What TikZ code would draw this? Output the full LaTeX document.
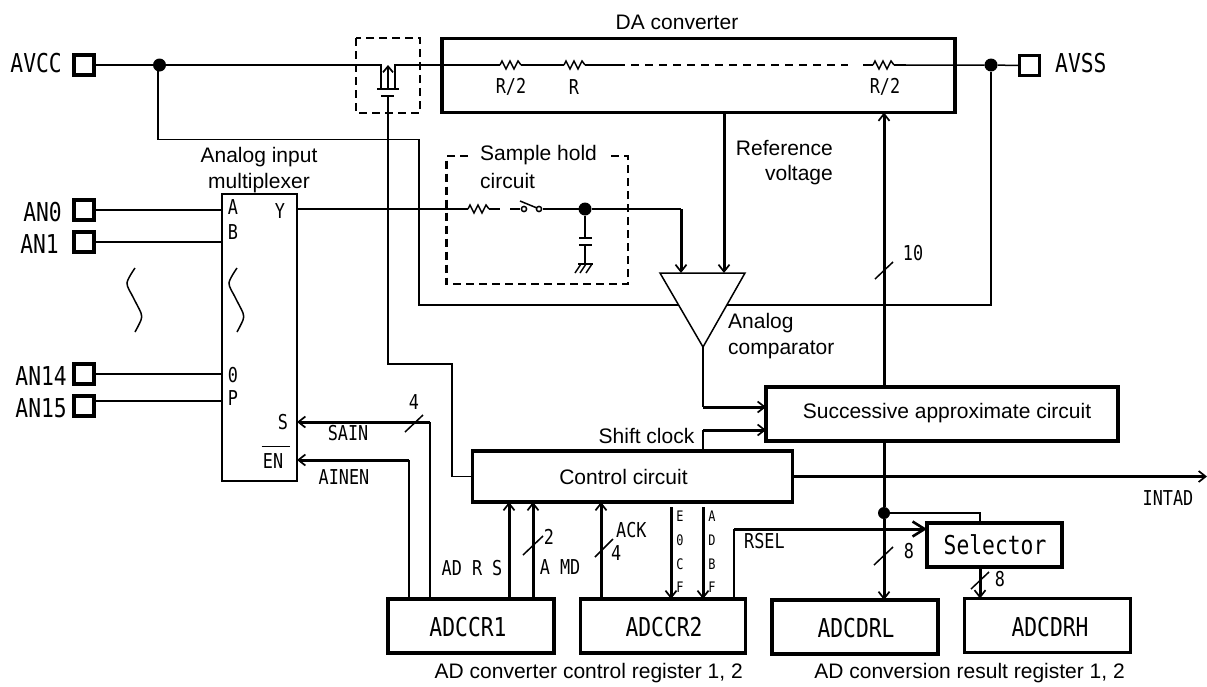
\documentclass[tikz,border=0pt]{standalone}
\usepackage{fontspec}
\setmainfont{Liberation Sans}
\newfontfamily\gothic[FakeStretch=0.82]{DejaVu Sans Mono}
\usetikzlibrary{arrows.meta}
\newcommand{\zigzag}[2]{\draw[wire] (#1,#2) -- ++(2,-4) -- ++(4,8) -- ++(4,-8) -- ++(4,8) -- ++(4,-8) -- ++(3,4);}
\tikzset{
  wire/.style={line width=1.5pt},
  bus/.style={line width=3pt},
  tip/.style={-{Straight Barb[length=7pt,width=11pt,line width=1.7pt]}},
  bigtip/.style={-{Straight Barb[length=12pt,width=15pt,line width=2.6pt]}},
  heavybox/.style={draw,line width=3.8pt,inner sep=0pt,outer sep=0pt,fill=white},
  muxbox/.style={draw,line width=2pt,inner sep=0pt,outer sep=0pt},
  dashbox/.style={line width=2.8pt,dash pattern=on 8pt off 5pt},
  pin/.style={draw,line width=3.4pt,minimum size=20pt,inner sep=0pt,outer sep=0pt},
  big/.style={font=\gothic\fontsize{26}{28}\selectfont,inner sep=0pt},
  small/.style={font=\gothic\fontsize{20.5}{24}\selectfont,inner sep=0pt},
  tiny/.style={font=\gothic\fontsize{14.5}{16}\selectfont,inner sep=0pt},
  lab/.style={font=\fontsize{21}{25.5}\selectfont,inner sep=0pt},
  dot/.style={circle,fill,minimum size=#1,inner sep=0pt,outer sep=0pt},
}
\begin{document}
\begin{tikzpicture}[x=1pt,y=-1pt]
\useasboundingbox[fill=white] (0,0) rectangle (1207,686);
% pins
\node[pin] (avcc) at (84,65) {};
\node[pin] (avss) at (1029.5,65.5) {};
\node[pin] (an0) at (84,210) {};
\node[pin] (an1) at (84,242) {};
\node[pin] (an14) at (84,374) {};
\node[pin] (an15) at (84,406) {};
\node[big,anchor=east] (tavcc) at (62,63) {AVCC};
\node[big,anchor=west] (tavss) at (1055,63) {AVSS};
\node[big,anchor=east] (tan0) at (62,212) {AN0};
\node[big,anchor=east] (tan1) at (59,244) {AN1};
\node[big,anchor=east] (tan14) at (67,376) {AN14};
\node[big,anchor=east] (tan15) at (67,408) {AN15};
% main blocks
\node[muxbox,minimum width=75pt,minimum height=287pt] (mux) at (259.5,337.5) {};
\node[heavybox,minimum width=513pt,minimum height=74pt] (da) at (698.5,75.5) {};
\node[heavybox,minimum width=352pt,minimum height=54pt] (sar) at (942,414) {};
\node[lab] (tsar) at (947,413) {Successive approximate circuit};
\node[heavybox,minimum width=320pt,minimum height=51pt] (ctrl) at (632.5,476.5) {};
\node[lab] (tctrl) at (623.5,477) {Control circuit};
\node[heavybox,minimum width=135pt,minimum height=44pt] (sel) at (994.5,545) {};
\node[big] (tsel) at (995,545) {Selector};
\node[heavybox,minimum width=166pt,minimum height=54pt] (cr1) at (471,626) {};
\node[big] (tcr1) at (468,627) {ADCCR1};
\node[heavybox,minimum width=165pt,minimum height=54pt] (cr2) at (663,626) {};
\node[big] (tcr2) at (664,627) {ADCCR2};
\node[heavybox,minimum width=166pt,minimum height=54pt] (drl) at (855,627) {};
\node[big] (tdrl) at (856,628) {ADCDRL};
\node[heavybox,minimum width=166pt,minimum height=54pt] (drh) at (1047.5,625.5) {};
\node[big] (tdrh) at (1050,627) {ADCDRH};
% named junctions
\node[dot=13pt] (j1) at (159.5,65) {};
\node[dot=13pt] (j2) at (991,65) {};
\node[dot=13pt] (j3) at (585,209) {};
\node[dot=12pt] (j4) at (884,513) {};
\coordinate (cmpL) at (660,273);
\coordinate (cmpR) at (745,273);
\coordinate (cmpA) at (703,347);
% wires through the comparator (covered by the triangle)
\draw[wire] (158,65) -- (158,139.5) -- (419,139.5) -- (419,305) -- (991,305) -- (j2);
\draw[wire] (avcc.east) -- (j1) -- (381,65) -- (381,89);
\draw[wire] (395,89) -- (395,65) -- (488,65);
\draw[wire] (532,65) -- (553,65);
\draw[wire] (597,65) -- (617,65);
\draw[line width=2.4pt,dash pattern=on 8pt off 6pt] (617,65) -- (848,65);
\draw[wire] (906,65) -- (j2) -- (avss.west);
\zigzag{500}{65}
\draw[wire] (488,65) -- (500,65) (521,65) -- (532,65);
\zigzag{564}{65}
\draw[wire] (553,65) -- (564,65) (585,65) -- (597,65);
\zigzag{873}{65}
\draw[wire] (863,65) -- (873,65) (894,65) -- (906,65);
\node[small] (tr1) at (511,87) {R/2};
\node[small] (tr2) at (574,87) {R};
\node[small] (tr3) at (885,87) {R/2};
\node[lab] (tda) at (677,22) {DA converter};
% transistor
\draw[dashbox] (356,38) rectangle (420,113);
\draw[line width=2.2pt] (377,89) -- (399,89);
\draw[line width=2.2pt] (381,96) -- (394,96);
\draw[line width=2.4pt,-{Straight Barb[length=6pt,width=10pt,line width=1.7pt]}] (388,89) -- (388,65);
\draw[wire] (388,96) -- (388,364) -- (452,364) -- (452,476.5) -- (ctrl.west);
% inputs
\draw[wire] (an0.east) -- (mux.west |- an0.east);
\draw[wire] (an1.east) -- (mux.west |- an1.east);
\draw[wire] (an14.east) -- (mux.west |- an14.east);
\draw[wire] (95,401) -- (222,401);
\node[small] (ta) at (233,207) {A};
\node[small] (tb) at (233,232) {B};
\node[small] (tY) at (280,211) {Y};
\node[small] (to) at (233,375) {0};
\node[small] (tp) at (233,398) {P};
\node[small] (ts) at (283,422) {S};
\node[small] (ten) at (273,461) {EN};
\draw[line width=1.2pt] ([xshift=-1pt,yshift=7pt]ten.north west) -- ([xshift=7pt,yshift=7pt]ten.north east);
\draw[wire] plot[smooth] coordinates {(135,268) (127,283) (133,297) (141,313) (141,320) (135,332)};
\draw[wire] plot[smooth] coordinates {(237,268) (229,283) (235,297) (243,313) (243,320) (237,332)};
\node[lab,align=center] (tmux) at (259,170) {Analog input\\multiplexer};
% sample hold
\draw[dashbox] (468,156) -- (446.5,156) -- (446.5,284) -- (628,284) -- (628,156) -- (607,156);
\node[lab,anchor=west] (tsh1) at (480,155) {Sample hold};
\node[lab,anchor=west] (tsh2) at (480,181) {circuit};
\draw[wire] (mux.east |- 0,209) -- (468,209);
\zigzag{468}{209}
\draw[wire] (489,209) -- (500,209) (510,209) -- (520,209);
\draw[wire] (543,209) -- (j3);
\draw[wire,fill=white] (524,209) circle (2.6);
\draw[wire,fill=white] (539,209) circle (2.6);
\draw[wire] (520,201) -- (537,208);
\draw[wire] (j3) -- (585,238);
\draw[line width=2.2pt] (579,238) -- (592,238) (579,245) -- (592,245);
\draw[wire] (585,245) -- (585,264);
\draw[wire] (578,264) -- (593,264);
\draw[wire] (581,264) -- (575,273) (586,264) -- (580,273) (592,264) -- (586,273);
\draw[wire] (j3) -- (681,209);
\draw[bus,tip] (681,209) -- (681,273);
% comparator
\draw[wire,fill=white] (cmpL) -- (cmpR) -- (cmpA) -- cycle;
\draw[bus,tip] (da.south -| 724,0) -- (724,273);
\node[lab,align=right,anchor=east] (tref) at (833,162.5) {Reference\\voltage};
\node[lab,align=left,anchor=west] (tcmp) at (728,336) {Analog\\comparator};
\draw[wire] (cmpA) -- (703,407);
\draw[bus,tip] (703,407) -- (sar.west |- 0,407);
% SAR up
\draw[bus,tip] (sar.north -| 884,0) -- (da.south -| 884,0);
\draw[wire] (875,279) -- (893,262);
\node[small] (t10) at (913,253) {10};
% shift clock
\draw[wire] (ctrl.north -| 703,0) -- (703,430);
\draw[bus,tip] (703,430) -- (sar.west |- 0,430);
\node[lab] (tsc) at (646.5,436) {Shift clock};
% bus down
\draw[bus] (sar.south -| j4) -- (j4);
\draw[bus,tip] (j4) -- (drl.north -| j4);
\draw[wire] (j4) -- (980,513) -- (sel.north -| 980,0);
\draw[wire] (874,565) -- (893,547);
\node[small] (t8a) at (909,551) {8};
\draw[bus,tip] (sel.south -| 980,0) -- (drh.north -| 980,0);
\draw[wire] (971,589) -- (989,572);
\node[small] (t8b) at (1000,579) {8};
% interrupts
\draw[bus,tip] (ctrl.east) -- (1207,476.5);
\node[small] (tint) at (1168,498) {INTAD};
% RSEL
\draw[wire] (cr2.north -| 734,0) -- (734,529);
\draw[bus,bigtip] (734,529) -- (sel.west |- 0,529);
\node[small,anchor=west] (trsel) at (744,541) {RSEL};
% register to control
\draw[bus,tip] (cr1.north -| 509,0) -- (ctrl.south -| 509,0);
\draw[bus,tip] (cr1.north -| 533,0) -- (ctrl.south -| 533,0);
\draw[wire] (523,555) -- (543,536);
\node[small] (t2) at (549,537) {2};
\node[small] (tadrs) at (472,568) {AD R S};
\node[small] (tamd) at (560,567) {A MD};
\draw[bus,tip] (cr2.north -| 601,0) -- (ctrl.south -| 601,0);
\draw[wire] (595,557) -- (613,539);
\node[small,anchor=west] (tack) at (616,530) {ACK};
\node[small,anchor=west] (t4b) at (611,553) {4};
\draw[bus,tip] (671,507) -- (cr2.north -| 671,0);
\draw[bus,tip] (703,507) -- (cr2.north -| 703,0);
\node[tiny] (e1) at (680,516) {E};
\node[tiny] (e2) at (680,540) {0};
\node[tiny] (e3) at (680,564) {C};
\node[tiny] (e4) at (680,587) {F};
\node[tiny] (a1) at (712,516) {A};
\node[tiny] (a2) at (712,540) {D};
\node[tiny] (a3) at (712,564) {B};
\node[tiny] (a4) at (712,587) {F};
% to mux
\draw[wire] (cr1.north -| 430,0) -- (430,422);
\draw[bus,tip] (430,422) -- (mux.east |- 0,422);
\draw[wire] (405,432) -- (423,415);
\node[small] (t4a) at (414,402) {4};
\node[small] (tsain) at (348,433) {SAIN};
\draw[wire] (cr1.north -| 409,0) -- (409,460);
\draw[bus,tip] (409,460) -- (mux.east |- 0,460);
\node[small] (tainen) at (344,477) {AINEN};
% captions
\node[lab,anchor=east] (tc1) at (743,673) {AD converter control register 1, 2};
\node[lab,anchor=east] (tc2) at (1125,673) {AD conversion result register 1, 2};
\end{tikzpicture}
\end{document}
